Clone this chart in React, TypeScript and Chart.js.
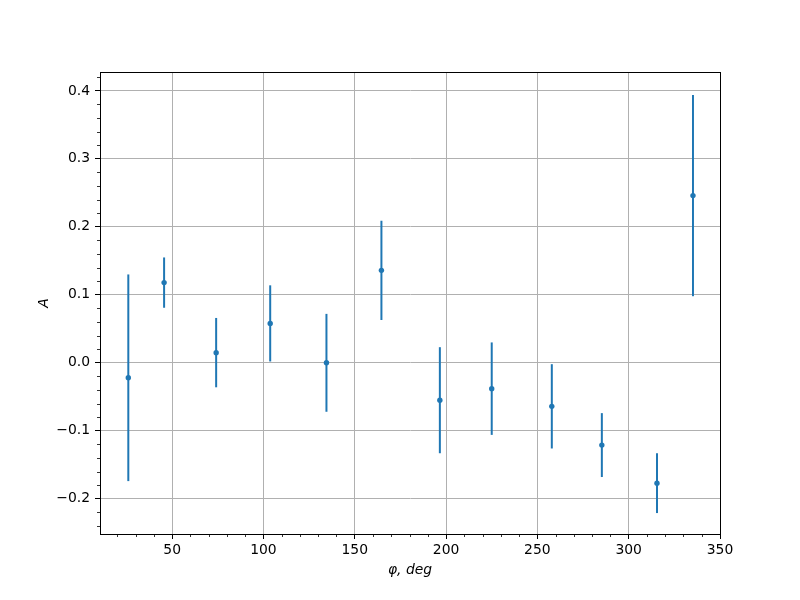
import React, { useEffect, useRef } from 'react';
import { Chart, registerables } from 'chart.js';

Chart.register(...registerables);

// data
const phi = [26.0, 45.6, 74.1, 103.7, 134.5, 164.6, 196.6, 225.0, 257.9, 285.3, 315.5, 335.2];
const asym = [-0.022, 0.118, 0.015, 0.058, 0.0, 0.136, -0.055, -0.038, -0.064, -0.121, -0.177, 0.246];
const asymErr = [0.152, 0.037, 0.051, 0.056, 0.072, 0.073, 0.078, 0.068, 0.062, 0.047, 0.044, 0.148];

const xTicks = [50, 100, 150, 200, 250, 300, 350];
const yTicks = [-0.2, -0.1, 0.0, 0.1, 0.2, 0.3, 0.4];
const yTickLabels = ['\u22120.2', '\u22120.1', '0.0', '0.1', '0.2', '0.3', '0.4'];

const X_MIN = 10.5;
const X_MAX = 350;
const Y_MIN = -0.2518;
const Y_MAX = 0.4278;
const X_MINOR_STEP = 10;
const Y_MINOR_STEP = 0.02;

const BLUE = '#1f77b4';
const FONT = "'DejaVu Sans', sans-serif";

const extrasPlugin = {
  id: 'extras',
  beforeDatasetsDraw(chart: any) {
    const { ctx, scales } = chart;
    const xs = scales.x;
    const ys = scales.y;
    ctx.save();
    ctx.strokeStyle = BLUE;
    ctx.lineWidth = 2;
    ctx.lineCap = 'butt';
    for (let i = 0; i < phi.length; i++) {
      const px = xs.getPixelForValue(phi[i]);
      const top = ys.getPixelForValue(asym[i] + asymErr[i]);
      const bot = ys.getPixelForValue(asym[i] - asymErr[i]);
      ctx.beginPath();
      ctx.moveTo(px, top);
      ctx.lineTo(px, bot);
      ctx.stroke();
    }
    ctx.restore();
  },
  afterDraw(chart: any) {
    const { ctx, chartArea, scales } = chart;
    const xs = scales.x;
    const ys = scales.y;
    ctx.save();
    // minor ticks
    ctx.strokeStyle = '#000';
    ctx.lineWidth = 0.8;
    const startX = Math.ceil(X_MIN / X_MINOR_STEP) * X_MINOR_STEP;
    for (let v = startX; v <= X_MAX + 1e-9; v += X_MINOR_STEP) {
      if (Math.abs(v % 50) < 1e-6) continue;
      const px = Math.round(xs.getPixelForValue(v)) + 0.5;
      ctx.beginPath();
      ctx.moveTo(px, chartArea.bottom);
      ctx.lineTo(px, chartArea.bottom + 3);
      ctx.stroke();
    }
    const startY = Math.ceil(Y_MIN / Y_MINOR_STEP) * Y_MINOR_STEP;
    for (let k = 0; ; k++) {
      const v = startY + k * Y_MINOR_STEP;
      if (v > Y_MAX + 1e-9) break;
      const r = Math.round(v * 100) / 100;
      if (Math.abs(Math.round(r * 10) - r * 10) < 1e-6) continue;
      const py = Math.round(ys.getPixelForValue(r)) + 0.5;
      ctx.beginPath();
      ctx.moveTo(chartArea.left, py);
      ctx.lineTo(chartArea.left - 3, py);
      ctx.stroke();
    }
    // frame
    ctx.lineWidth = 1;
    ctx.strokeStyle = '#000';
    ctx.strokeRect(
      Math.round(chartArea.left) + 0.5,
      Math.round(chartArea.top) + 0.5,
      Math.round(chartArea.right - chartArea.left),
      Math.round(chartArea.bottom - chartArea.top)
    );
    ctx.restore();
  },
};

export default function App() {
  const ref = useRef<HTMLCanvasElement | null>(null);

  useEffect(() => {
    if (!ref.current) return;
    const chart = new Chart(ref.current, {
      type: 'scatter',
      data: {
        datasets: [
          {
            data: phi.map((x, i) => ({ x, y: asym[i] })),
            backgroundColor: BLUE,
            borderWidth: 0,
            pointRadius: 2.7,
            pointHoverRadius: 2.7,
          },
        ],
      },
      options: {
        animation: false,
        responsive: true,
        maintainAspectRatio: false,
        layout: { padding: { top: 72, right: 80, left: 0, bottom: 0 } },
        plugins: {
          legend: { display: false },
          tooltip: { enabled: false },
        },
        scales: {
          x: {
            type: 'linear',
            min: X_MIN,
            max: X_MAX,
            afterBuildTicks: (s: any) => {
              s.ticks = xTicks.map((v) => ({ value: v }));
            },
            afterFit: (s: any) => {
              s.height = 66;
            },
            ticks: {
              color: '#000',
              font: { family: FONT, size: 13.9 },
              padding: 3,
              maxRotation: 0,
              autoSkip: false,
              callback: (v: any) => String(v),
            },
            grid: {
              color: '#b0b0b0',
              lineWidth: 1,
              tickColor: '#000',
              tickLength: 5,
              tickWidth: 1,
            },
            border: { display: true, color: '#000', width: 1 },
            title: {
              display: true,
              text: '\u03c6, deg',
              color: '#000',
              font: { family: FONT, size: 13.9, style: 'italic' },
              padding: { top: 0, bottom: 21 },
            },
          },
          y: {
            type: 'linear',
            min: Y_MIN,
            max: Y_MAX,
            afterBuildTicks: (s: any) => {
              s.ticks = yTicks.map((v) => ({ value: v }));
            },
            afterFit: (s: any) => {
              s.width = 100;
            },
            ticks: {
              color: '#000',
              font: { family: FONT, size: 13.9 },
              padding: 5,
              autoSkip: false,
              callback: (v: any) => {
                const idx = yTicks.findIndex((t) => Math.abs(t - v) < 1e-9);
                return idx >= 0 ? yTickLabels[idx] : '';
              },
            },
            grid: {
              color: '#b0b0b0',
              lineWidth: 1,
              tickColor: '#000',
              tickLength: 5,
              tickWidth: 1,
            },
            border: { display: true, color: '#000', width: 1 },
            title: {
              display: true,
              text: 'A',
              color: '#000',
              font: { family: FONT, size: 13.9, style: 'italic' },
              padding: { top: 36, bottom: 0 },
            },
          },
        },
      },
      plugins: [extrasPlugin],
    });
    return () => chart.destroy();
  }, []);

  return (
    <div style={{ position: 'fixed', left: 0, top: 0, width: 800, height: 600, background: '#fff' }}>
      <canvas ref={ref} />
    </div>
  );
}
